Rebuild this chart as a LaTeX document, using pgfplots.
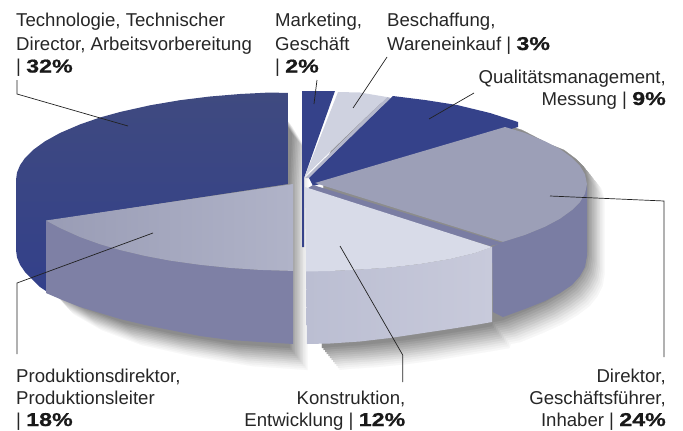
\documentclass[border=0pt]{standalone}
\usepackage{pgfplots}
\pgfplotsset{compat=1.18}
\usepackage{pgfplotstable}
\usepackage{fontspec}
\setmainfont{Liberation Sans}
\newfontfamily\wb[BoldFeatures={FakeStretch=1.25,FakeBold=0.8}]{Liberation Sans}
\definecolor{darkTop}{HTML}{3F4A80}
\definecolor{darkSide}{HTML}{33408A}
\definecolor{nineTop}{HTML}{35428A}
\definecolor{eighTopL}{HTML}{999CB5}
\definecolor{eighTopR}{HTML}{B0B3C8}
\definecolor{eighSide}{HTML}{7E80A5}
\definecolor{twelTop}{HTML}{D8DBE8}
\definecolor{twelSideL}{HTML}{BBBED2}
\definecolor{twelSideR}{HTML}{C8CADB}
\definecolor{twenTop}{HTML}{9C9FB7}
\definecolor{twenSide}{HTML}{7A7DA3}
\definecolor{threeTop}{HTML}{CFD2E0}
\definecolor{threeSide}{HTML}{B5B8CC}
\definecolor{leader}{HTML}{222222}
\pgfplotstableread{
x y
288 140
270 110
240 110
210 112
180 115
150 120
120 126
100 131
80 138
60 147
45 155
33 164
25 172
22 180
22 252
23 259
26 267
31 275
39 284
52 298
80 314
120 329
170 340
230 350
286 354
286 184
288 140
}\leftgroup
\pgfplotstableread{
x y
320 176
345 106
360 106
387 110
425 114
457 119
490 127
518 136
545 150
560 156
572 165
580 173
583 184
583 258
581 270
576 280
568 290
556 299
541 308
521 317
499 326
489 328
488 332
471 335
446 339
416 344
386 348
356 351
326 353
318 354
317 271
320 176
}\rightgroup
\newcommand{\lbl}[4]{\node[anchor=base #1,inner sep=0pt,font=\fontsize{18.6}{22}\selectfont,text=black!85] at (axis cs:#2,#3) {#4};}
\newcommand{\pct}[1]{{\wb\bfseries\color{black!90} #1\%}}
\newcommand{\shadowstep}[2]{%
  \addplot[fill=black!#2, draw=black!#2, line width=0.2pt] table[x expr=\thisrow{x}+4+0.8*#1, y expr=\thisrow{y}-6+#1] {\leftgroup};
  \addplot[fill=black!#2, draw=black!#2, line width=0.2pt] table[x expr=\thisrow{x}+4+0.8*#1, y expr=\thisrow{y}-6+#1] {\rightgroup};
}
\begin{document}
\begin{tikzpicture}
\begin{axis}[
  scale only axis, width=683pt, height=431pt,
  xmin=0, xmax=683, ymin=0, ymax=431, y dir=reverse,
  axis lines=none, clip=false]
\path (axis cs:0,0) rectangle (axis cs:683,431);
% soft shadows: solid greys from the outermost, lightest step inwards
\shadowstep{22}{3}
\shadowstep{20}{6}
\shadowstep{18}{9}
\shadowstep{16}{13}
\shadowstep{14}{17}
\shadowstep{12}{21}
\shadowstep{10}{25}
\shadowstep{8}{29}
\shadowstep{6}{33}
\shadowstep{4}{37}
\shadowstep{2}{41}
\shadowstep{0}{45}
% 32 % top and side
\addplot[top color=darkTop, bottom color=darkSide, draw=none] coordinates {(288,93)(270,92.5)(240,94)(210,96.5)(180,100.2)(150,105.3)(120,112)(100,117.5)(80,124.4)(60,133)(45,141.3)(33,150)(25,158)(20,165.3)(17,172.6)(16,180)(16,250)(17,257.4)(20,264.7)(25,272)(33,280)(40,287)(46,291)(46,221)(288,184)};
% 18 % side and top
\addplot[fill=eighSide, draw=none] coordinates {(46,220.5)(60,228)(80,237)(100,244.2)(120,250)(145,255.9)(170,260.6)(200,264.8)(230,267.9)(260,269.9)(293,270.9)(293,344)(260,342)(230,340)(200,336)(170,330)(145,325)(120,319)(100,313)(80,307)(60,299)(46,293)};
\addplot[left color=eighTopL, right color=eighTopR, draw=none] coordinates {(46,220.5)(293,184)(293,270.9)(260,269.9)(230,267.9)(200,264.8)(170,260.6)(145,255.9)(120,250)(100,244.2)(80,237)(60,228)};
% 2 %
\addplot[fill=nineTop, draw=none] coordinates {(302,91)(335,91)(304,178)(304,247)(302,247)};
% 3 %
\addplot[fill=threeSide, draw=none] coordinates {(305,178)(387,97)(391,98)(309,178)};
\addplot[fill=threeTop, draw=none] coordinates {(305,176)(338,92)(360,92.5)(387,97)};
% 9 %
\addplot[fill=nineTop, draw=none] coordinates {(309,178)(393,96)(425,100)(457,105)(490,113)(518,122)(518,127)(313,186)};
% 24 %
\addplot[fill=twenSide, draw=none] coordinates {(587,184)(587,256)(585,267)(580,276)(572,285)(560,293)(545,301)(525,309)(503,317)(493,312)(492,247)(503,241.8)(525,234.9)(545,226.7)(560,218.7)(572,210)(580,202)(585,193.6)};
\addplot[fill=twenSide, draw=none] coordinates {(313,185)(503,243)(490,246)(305,190)};
\addplot[fill=twenTop, draw=none] coordinates {(315,183)(505,127)(525,133)(545,141.3)(560,149)(572,157.8)(580,166)(585,174.4)(587,184)(585,193.6)(580,202)(572,210)(560,218.7)(545,226.7)(525,234.9)(503,241.8)};
% 12 %
\addplot[left color=twelSideL, right color=twelSideR, draw=none] coordinates {(306,271)(330,271)(360,269.5)(390,267.5)(420,264)(450,259)(475,253)(492,247)(492,322)(475,325)(450,329)(420,333.5)(390,338)(360,341.5)(330,343.5)(307,344)};
\addplot[fill=twelTop, draw=none] coordinates {(305,187)(492,247)(475,253)(450,259)(420,264)(390,267.5)(360,269.5)(330,271)(306,271.5)};
% leaders
\addplot[leader, line width=0.7pt] coordinates {(17,80)(17,94)(128,126)};
\addplot[leader, line width=0.7pt] coordinates {(153,233)(17,283)(17,354)};
\addplot[leader, line width=0.7pt] coordinates {(314,104)(317,80)};
\addplot[leader, line width=0.7pt] coordinates {(353,108)(387,57)};
\addplot[leader, line width=0.7pt] coordinates {(429,119)(474,93)};
\addplot[leader, line width=0.7pt] coordinates {(550,196)(664,201)(664,357)};
\addplot[leader, line width=0.7pt] coordinates {(340,246)(402.7,355)(402.7,382)};
% labels
\lbl{west}{16}{27}{Technologie, Technischer}
\lbl{west}{16}{50}{Director, Arbeitsvorbereitung}
\lbl{west}{16}{72.5}{| \pct{32}}
\lbl{west}{275}{27}{Marketing,}
\lbl{west}{275}{50}{Geschäft}
\lbl{west}{275}{72.5}{| \pct{2}}
\lbl{west}{387}{27}{Beschaffung,}
\lbl{west}{387}{50}{Wareneinkauf | \pct{3}}
\lbl{east}{666}{83}{Qualitätsmanagement,}
\lbl{east}{666}{105}{Messung | \pct{9}}
\lbl{west}{16}{382}{Produktionsdirektor,}
\lbl{west}{16}{404}{Produktionsleiter}
\lbl{west}{16}{426}{| \pct{18}}
\lbl{east}{405.5}{404}{Konstruktion,}
\lbl{east}{405.5}{426}{Entwicklung | \pct{12}}
\lbl{east}{666}{382}{Direktor,}
\lbl{east}{666}{404}{Geschäftsführer,}
\lbl{east}{666}{426}{Inhaber | \pct{24}}
\end{axis}
\end{tikzpicture}
\end{document}
